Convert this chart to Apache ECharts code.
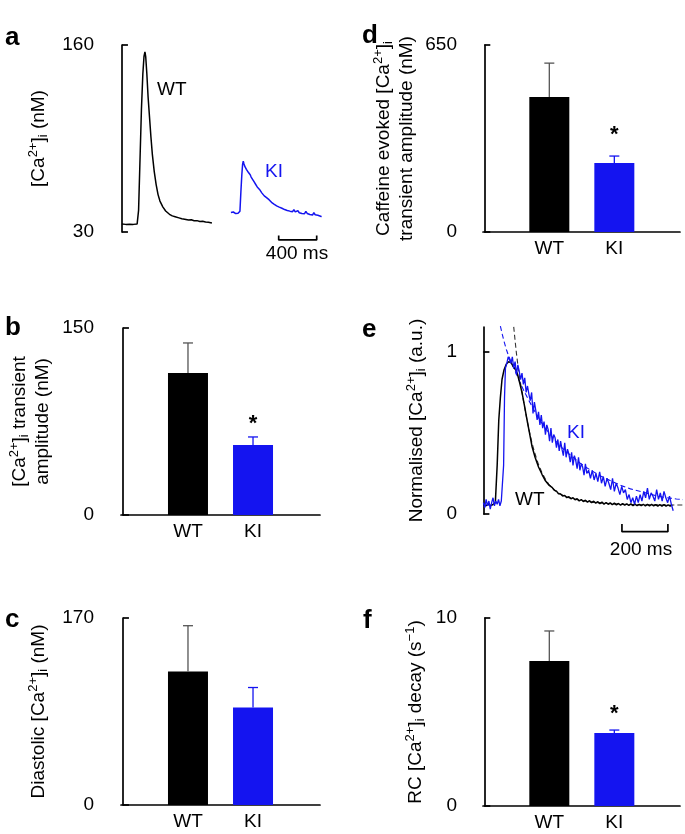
<!DOCTYPE html>
<html><head><meta charset="utf-8">
<script src="https://cdn.jsdelivr.net/npm/echarts@6/dist/echarts.min.js"></script>
<style>html,body{margin:0;padding:0;background:#fff}#c{width:685px;height:834px}</style>
</head><body><div id="c"></div><script>
const FONT = '"Liberation Sans", Arial, Helvetica, sans-serif';
const BLUE = '#1414f0';

// ---------- Panel a: example transients (time ms, [Ca2+]i nM) ----------
const aWT = [[0,35.5],[20,35.8],[40,35.3],[60,35.6],[80,35.4],[100,35.7],[120,35.3],[140,35.5],[160,35.6],[175,45],[190,80],[205,115],[220,140],[232,152],[242,155.2],[250,152],[262,140],[275,124],[290,110],[305,96],[320,84],[340,72],[360,63],[380,56],[400,51.5],[430,47.5],[460,44.6],[500,42.3],[530,41.2],[560,40.6],[600,39.8],[630,39.2],[660,38.9],[700,38.3],[730,38.5],[760,37.8],[790,37.9],[820,37.3],[850,37.5],[880,36.9],[910,36.8],[947,36.3]];
const aKI = [[1147,43.6],[1160,43.0],[1172,43.9],[1185,43.2],[1198,42.8],[1210,43.7],[1222,43.1],[1234,43.5],[1242,44.5],[1252,58],[1262,70],[1270,77],[1277,79.2],[1284,77.5],[1292,75.8],[1300,76.5],[1310,73.6],[1320,74.2],[1330,71.5],[1340,71.9],[1350,69.8],[1360,68.2],[1370,68.9],[1380,66.1],[1390,65.7],[1400,63.9],[1412,62.8],[1424,61.3],[1436,61.9],[1448,59.6],[1460,58.8],[1472,57.2],[1486,57.6],[1498,55.1],[1510,55.8],[1522,53.9],[1536,54.4],[1548,52.5],[1560,52.0],[1574,50.6],[1588,51.3],[1600,49.4],[1614,49.9],[1628,48.2],[1642,48.7],[1656,47.3],[1670,47.9],[1684,46.5],[1698,47.0],[1712,45.6],[1726,46.4],[1740,45.0],[1754,45.9],[1768,44.5],[1782,45.3],[1796,44.1],[1810,45.6],[1824,44.0],[1838,43.2],[1852,44.8],[1866,43.4],[1880,44.2],[1894,42.9],[1908,43.8],[1922,42.7],[1936,44.3],[1950,42.9],[1964,43.6],[1978,42.2],[1992,43.0],[2006,41.8],[2020,43.4],[2034,42.0],[2048,42.9],[2062,41.6],[2076,42.5],[2090,41.0],[2101,40.6]];
const aScaleBar = [[1650,27.6],[1650,24.5],[2050,24.5],[2050,27.6]];
const aTicks = [30, 160];

// ---------- Panel e: normalised transients (time ms, a.u.) ----------
const eWT = [[0,0.055],[10,0.05],[20,0.06],[30,0.052],[40,0.057],[48,0.06],[52,0.07],[60,0.3],[67,0.58],[74,0.72],[81,0.83],[90,0.89],[100,0.925],[110,0.94],[120,0.935],[130,0.91],[140,0.89],[147,0.87],[158,0.81],[168,0.75],[180,0.66],[190,0.58],[200,0.505],[212,0.415],[225,0.35],[240,0.29],[255,0.245],[270,0.205],[284,0.18],[300,0.163],[309,0.146],[318,0.141],[327,0.125],[336,0.124],[345,0.111],[354,0.114],[363,0.101],[372,0.107],[381,0.094],[390,0.1],[399,0.088],[408,0.094],[417,0.081],[426,0.089],[435,0.077],[444,0.085],[453,0.073],[462,0.082],[471,0.07],[480,0.079],[489,0.067],[498,0.076],[507,0.064],[516,0.073],[525,0.061],[534,0.071],[543,0.06],[552,0.069],[561,0.058],[570,0.067],[579,0.056],[588,0.065],[597,0.055],[606,0.064],[615,0.054],[624,0.063],[633,0.053],[642,0.062],[651,0.052],[660,0.061],[669,0.051],[678,0.06],[687,0.051],[696,0.06],[705,0.05],[714,0.059],[723,0.05],[732,0.059],[741,0.05],[750,0.058],[759,0.049],[768,0.058],[777,0.049],[786,0.058],[795,0.049],[804,0.057],[813,0.049],[822,0.056]];
const eKI = [[0,0.07],[6,0.04],[12,0.09],[18,0.05],[24,0.08],[30,0.03],[36,0.07],[42,0.1],[48,0.05],[54,0.08],[60,0.06],[66,0.09],[72,0.05],[78,0.08],[84,0.07],[88,0.3],[92,0.72],[96,0.9],[102,0.93],[108,0.97],[114,0.95],[120,0.93],[126,0.97],[132,0.9],[138,0.94],[144,0.86],[150,0.92],[156,0.88],[162,0.83],[168,0.87],[174,0.8],[180,0.84],[186,0.75],[192,0.79],[198,0.74],[204,0.7],[210,0.75],[216,0.62],[222,0.69],[228,0.64],[234,0.58],[240,0.63],[246,0.55],[252,0.61],[258,0.53],[264,0.57],[270,0.49],[276,0.55],[282,0.52],[288,0.45],[294,0.53],[300,0.44],[306,0.49],[312,0.47],[318,0.41],[324,0.46],[330,0.39],[336,0.45],[342,0.4],[348,0.36],[354,0.44],[360,0.35],[366,0.4],[372,0.37],[378,0.32],[384,0.38],[390,0.3],[396,0.36],[402,0.33],[408,0.28],[414,0.35],[420,0.27],[426,0.31],[432,0.29],[438,0.24],[444,0.31],[450,0.25],[458,0.27],[466,0.22],[474,0.27],[482,0.21],[490,0.25],[498,0.2],[506,0.26],[514,0.19],[522,0.23],[530,0.17],[538,0.22],[546,0.19],[554,0.15],[562,0.22],[570,0.14],[578,0.19],[586,0.16],[594,0.12],[602,0.17],[610,0.13],[618,0.15],[626,0.09],[634,0.12],[642,0.07],[650,0.1],[658,0.06],[666,0.11],[674,0.07],[682,0.12],[690,0.08],[698,0.14],[706,0.1],[714,0.16],[722,0.09],[730,0.13],[738,0.11],[746,0.08],[754,0.15],[762,0.09],[770,0.13],[778,0.08],[786,0.14],[794,0.1],[802,0.07],[810,0.11],[818,0.06],[826,0.02]];
const eWTfit = [[132,1.155],[138,1.07],[144,0.99],[150,0.92],[158,0.84],[168,0.75],[180,0.655],[190,0.58],[200,0.51],[212,0.435],[225,0.37],[240,0.305],[255,0.255],[270,0.215],[284,0.185],[300,0.16],[320,0.136],[342,0.118],[365,0.104],[393,0.093],[420,0.085],[450,0.078],[480,0.072],[520,0.067],[560,0.063],[600,0.06],[650,0.058],[700,0.057],[780,0.056],[876,0.055]];
const eKIfit = [[74,1.16],[82,1.11],[90,1.065],[100,1.015],[110,0.975],[125,0.925],[140,0.875],[160,0.81],[180,0.75],[200,0.695],[225,0.63],[250,0.57],[275,0.52],[300,0.475],[330,0.425],[360,0.385],[390,0.35],[420,0.315],[450,0.285],[480,0.26],[510,0.235],[540,0.215],[570,0.195],[600,0.175],[640,0.155],[680,0.14],[720,0.125],[760,0.11],[800,0.1],[840,0.093],[876,0.088]];
const eScaleBar = [[603,-0.062],[603,-0.109],[803,-0.109],[803,-0.062]];
const eTicks = [0, 1];

// ---------- Bar panels: mean and SEM (WT, KI) ----------
const groups = ['WT', 'KI'];
const bMean = [113.9, 56.1], bSem = [24.1, 6.5], bSig = [0, 1], bTicks = [0, 150];
const cMean = [121.4, 88.6], cSem = [41.6, 18.2], cSig = [0, 0], cTicks = [0, 170];
const dMean = [469, 240], dSem = [118, 24], dSig = [0, 1], dTicks = [0, 650];
const fMean = [7.71, 3.88], fSem = [1.6, 0.16], fSig = [0, 1], fTicks = [0, 10];

const FS = 19;
const rich = {
  n: {fontSize: FS, fontFamily: FONT, color: '#000', lineHeight: 23},
  sup: {fontSize: 13, fontFamily: FONT, color: '#000', lineHeight: 13, verticalAlign: 'top'},
  sub: {fontSize: 13, fontFamily: FONT, color: '#000', lineHeight: 13, verticalAlign: 'bottom'}
};
const CA = '{n|[Ca}{sup|2+}{n|]}{sub|i}';

function yAx(gi, min, max, ticks, name, nameGap, offset) {
  return {
    type: 'value', gridIndex: gi, min: min, max: max, offset: offset || 0, position: 'left',
    axisLine: {show: true, lineStyle: {color: '#000', width: 1.7}},
    axisTick: {show: true, inside: true, length: 6, customValues: ticks, lineStyle: {color: '#000', width: 1.7}},
    axisLabel: {show: true, customValues: ticks, margin: 8, color: '#000', fontSize: FS, fontFamily: FONT},
    splitLine: {show: false},
    name: name, nameLocation: 'middle', nameRotate: 90, nameGap: nameGap,
    nameTextStyle: {color: '#000', fontSize: FS, fontFamily: FONT, lineHeight: 23, rich: rich}
  };
}
function xBar(gi, min, max) {
  return {
    type: 'value', gridIndex: gi, min: min, max: max,
    axisLine: {show: true, onZero: false, lineStyle: {color: '#000', width: 1.7}},
    axisTick: {show: false},
    axisLabel: {show: true, customValues: [1, 2], margin: 7, color: '#000', fontSize: FS, fontFamily: FONT,
      formatter: v => groups[Math.round(v) - 1]},
    splitLine: {show: false}
  };
}
function xHidden(gi, min, max) {
  return {type: 'value', gridIndex: gi, min: min, max: max, show: false, splitLine: {show: false}};
}

function barSeries(gi, mean, sem, sig, starGap) {
  const barData = mean.map((m, i) => ({value: [i + 1, m], itemStyle: {color: i === 0 ? '#000' : BLUE}}));
  const errData = mean.map((m, i) => [i + 1, m, sem[i], sig[i]]);
  return [
    {type: 'bar', xAxisIndex: gi, yAxisIndex: gi, data: barData, barWidth: 40, silent: true, animation: false},
    {type: 'custom', xAxisIndex: gi, yAxisIndex: gi, data: errData, silent: true, animation: false, z: 5,
      renderItem: function (params, api) {
        const x = api.value(0), m = api.value(1), s = api.value(2), g = api.value(3);
        const p0 = api.coord([x, m]), p1 = api.coord([x, m + s]);
        const col = params.dataIndex === 0 ? '#555' : BLUE;
        const st = {stroke: col, lineWidth: 1.3};
        const ch = [
          {type: 'line', shape: {x1: p0[0], y1: p0[1], x2: p1[0], y2: p1[1]}, style: st},
          {type: 'line', shape: {x1: p1[0] - 5, y1: p1[1], x2: p1[0] + 5, y2: p1[1]}, style: st}
        ];
        if (g) ch.push({type: 'text', x: p1[0], y: p1[1] - starGap,
          style: {text: '*', fill: '#000', font: 'bold 22px ' + FONT, align: 'center', verticalAlign: 'middle'}});
        return {type: 'group', children: ch};
      }}
  ];
}
function lineS(gi, data, color, width, dashed, clip) {
  return {type: 'line', xAxisIndex: gi, yAxisIndex: gi, data: data, symbol: 'none', silent: true, animation: false,
    clip: clip !== false, lineStyle: {color: color, width: width, type: dashed ? [5, 3] : 'solid'}};
}

function txt(x, y, s, opt) {
  return {type: 'text', x: x, y: y, style: Object.assign({text: s, fill: '#000', font: FS + 'px ' + FONT, align: 'left', verticalAlign: 'middle'}, opt || {})};
}
function letter(x, y, s) {
  return {type: 'text', x: x, y: y, style: {text: s, fill: '#000', font: 'bold 26px ' + FONT, align: 'left', verticalAlign: 'alphabetic'}};
}

const option = {
  backgroundColor: '#fff',
  animation: false,
  grid: [
    {left: 102, top: 45, width: 228, height: 187},
    {left: 121, top: 328, width: 199, height: 187},
    {left: 121, top: 618, width: 199, height: 187},
    {left: 483, top: 45, width: 197, height: 187},
    {left: 465, top: 327, width: 216, height: 187},
    {left: 483, top: 618, width: 197, height: 188}
  ],
  xAxis: [
    xHidden(0, -210, 2190),
    xBar(1, -0.03, 3.03),
    xBar(2, -0.03, 3.03),
    xBar(3, -0.02, 3.01),
    xHidden(4, -80, 860),
    xBar(5, -0.02, 3.01)
  ],
  yAxis: [
    yAx(0, 30, 160, aTicks, CA + '{n| (nM)}', 52, 0),
    yAx(1, 0, 150, bTicks, CA + '{n| transient}\n{n|amplitude (nM)}', 48, 19),
    yAx(2, 0, 170, cTicks, '{n|Diastolic }' + CA + '{n| (nM)}', 52, 19),
    yAx(3, 0, 650, dTicks, '{n|Caffeine evoked }' + CA + '\n{n|transient amplitude (nM)}', 47, 18),
    yAx(4, 0, 1.154, eTicks, '{n|Normalised }' + CA + '{n| (a.u.)}', 37, 0),
    yAx(5, 0, 10, fTicks, '{n|RC }' + CA + '{n| decay (s}{sup|\u22121}{n|)}', 38, 18)
  ],
  series: [
    lineS(0, aWT, '#000', 1.5),
    lineS(0, aKI, BLUE, 1.5),
    lineS(0, aScaleBar, '#000', 1.7, false, false),
    ...barSeries(1, bMean, bSem, bSig, 13),
    ...barSeries(2, cMean, cSem, cSig, 14),
    ...barSeries(3, dMean, dSem, dSig, 21),
    lineS(4, eWTfit, '#333', 1.1, true, false),
    lineS(4, eKIfit, BLUE, 1.1, true, false),
    lineS(4, eWT, '#000', 1.5),
    lineS(4, eKI, BLUE, 1.3),
    lineS(4, eScaleBar, '#000', 1.7, false, false),
    ...barSeries(5, fMean, fSem, fSig, 16)
  ],
  graphic: [
    letter(5, 25, 'a'), letter(5, 315, 'b'), letter(5, 607, 'c'),
    letter(362, 23, 'd'), letter(362, 317, 'e'), letter(363, 608, 'f'),
    txt(157, 90, 'WT'),
    txt(265, 172, 'KI', {fill: BLUE}),
    txt(297, 254, '400 ms', {align: 'center'}),
    txt(567, 433, 'KI', {fill: BLUE}),
    txt(515, 500, 'WT'),
    txt(641, 550, '200 ms', {align: 'center'})
  ]
};
const chart = echarts.init(document.getElementById('c'), null, {renderer: 'canvas'});
chart.setOption(option);
</script></body></html>
